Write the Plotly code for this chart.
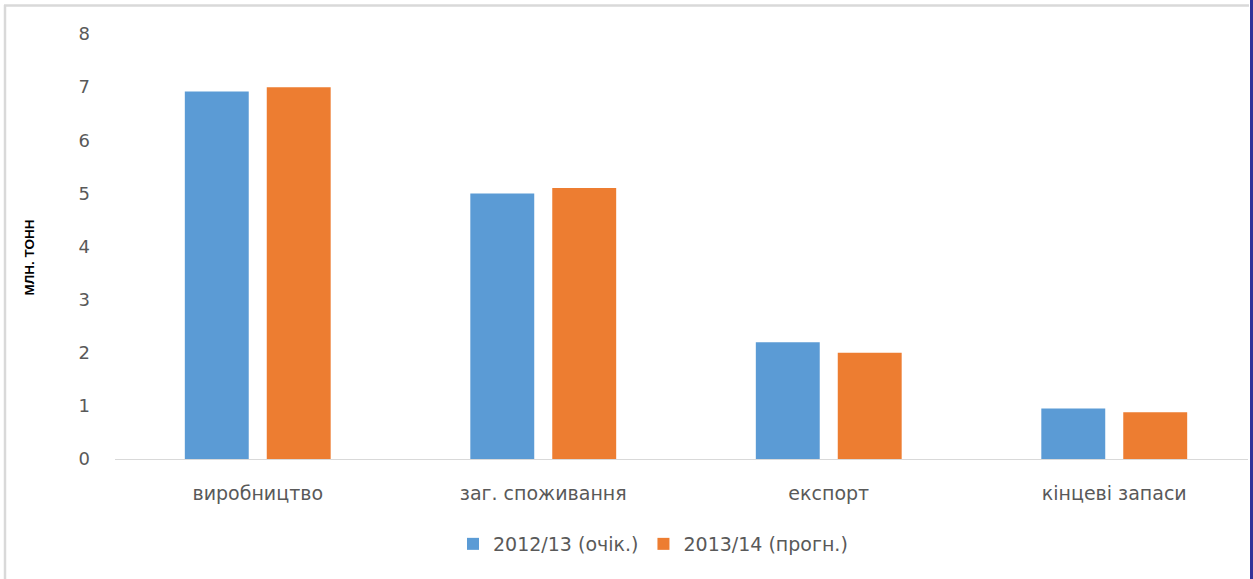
import plotly.graph_objects as go

categories = ["виробництво", "заг. споживання", "експорт", "кінцеві запаси"]
series_names = ["2012/13 (очік.)", "2013/14 (прогн.)"]
values_2012 = [6.92, 5.0, 2.2, 0.95]
values_2013 = [7.0, 5.1, 2.0, 0.88]
y_ticks = [0, 1, 2, 3, 4, 5, 6, 7, 8]
y_title = "МЛН. ТОНН"

colors = ["#5B9BD5", "#ED7D31"]
text_color = "#595959"
W, H = 1253, 579
ML, MR, MT, MB = 115, 5, 34, 120
pw = W - ML - MR
ph = H - MT - MB

fig = go.Figure()
for name, vals, c in zip(series_names, [values_2012, values_2013], colors):
    fig.add_trace(go.Bar(x=categories, y=vals, name=name, marker_color=c,
                         marker_line_width=0))

cat_px = 285.5
rng_w = pw / cat_px

def px_x(x):
    return (x - ML) / pw

def px_y(y):
    return (H - MB - y) / ph

fig.update_layout(
    width=W, height=H,
    margin=dict(l=ML, r=MR, t=MT, b=MB),
    paper_bgcolor="white", plot_bgcolor="white",
    barmode="group", bargap=0.426, bargroupgap=0.22,
    font=dict(family="DejaVu Sans", size=18, color=text_color),
    xaxis=dict(range=[-0.5, -0.5 + rng_w], showline=True, linecolor="#D9D9D9",
               linewidth=1, showgrid=False, ticks="", ticklabelstandoff=17,
               tickfont=dict(size=19)),
    yaxis=dict(range=[0, 8], tickvals=y_ticks, showgrid=False, zeroline=False,
               showline=False, ticks="", ticklabelstandoff=24,
               tickfont=dict(size=18)),
    legend=dict(orientation="h", x=px_x(653), xanchor="center", y=px_y(544), yanchor="middle",
                font=dict(size=19), itemwidth=30, traceorder="normal"),
    showlegend=True,
    annotations=[
        dict(text="<b>" + y_title + "</b>", xref="paper", yref="paper", x=px_x(29), y=px_y(257.5),
             xanchor="center", yanchor="middle", textangle=-90, showarrow=False,
             font=dict(family="Liberation Sans", size=13.5, color="black")),
    ],
    shapes=[
        dict(type="line", xref="paper", yref="paper", x0=px_x(5), x1=px_x(5),
             y0=px_y(5), y1=px_y(H + 5), line=dict(color="#D9D9D9", width=2.5)),
        dict(type="line", xref="paper", yref="paper", x0=px_x(4), x1=px_x(1249),
             y0=px_y(5.5), y1=px_y(5.5), line=dict(color="#D9D9D9", width=2.5)),
        dict(type="line", xref="paper", yref="paper", x0=px_x(1251.5), x1=px_x(1251.5),
             y0=px_y(-5), y1=px_y(H + 5), line=dict(color="#333399", width=3)),
    ],
)

fig.write_html("out.html", config={"displayModeBar": False},
               post_script="document.body.style.margin='0px';document.body.style.overflow='hidden';")
